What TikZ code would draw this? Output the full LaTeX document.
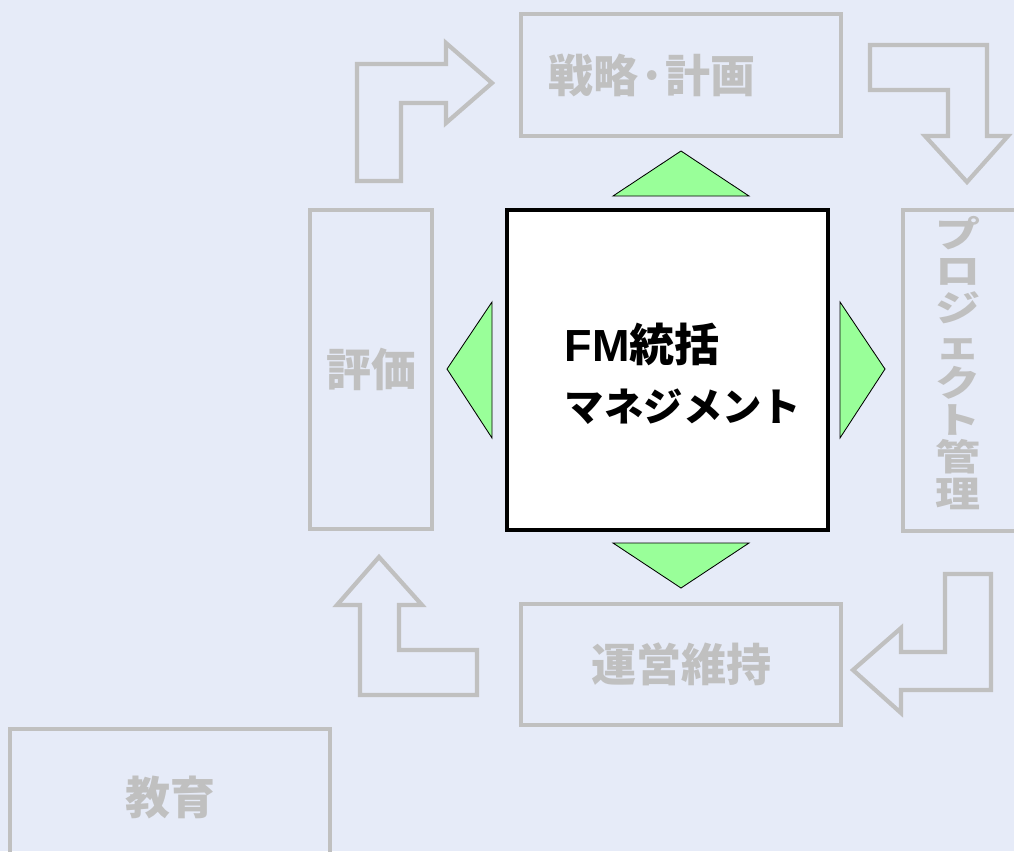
\documentclass[tikz,border=0pt]{standalone}
\usepackage{fontspec}
\newfontfamily\jpfont{Noto Sans CJK JP}
\newfontfamily\lafont{Liberation Sans}
\usetikzlibrary{positioning}
\definecolor{bgblue}{RGB}{230,235,248}
\definecolor{lgray}{RGB}{192,192,192}
\definecolor{lgreen}{RGB}{153,255,153}
\tikzset{
  gbox/.style={draw=lgray, line width=3pt, text=lgray, inner sep=0pt,
    font=\jpfont\bfseries\fontsize{32}{33}\selectfont},
  gtext/.style={gbox, draw=none},
  fmbox/.style={draw=black, fill=white, line width=3.4pt},
  garrow/.style={draw=lgray, line width=3pt, line join=miter},
  tri/.style={draw=black, line width=0.6pt, fill=lgreen, line join=miter}
}
\newcommand{\gnode}[5]{\node [gbox, minimum width=#4*0.025cm, minimum height=#5*0.025cm] (#1) at (#2) {#3}}

\begin{document}
\begin{tikzpicture}[x=0.025cm, y=-0.025cm]

\clip (0,0) rectangle (1014,851);
\fill[bgblue] (0,0) rectangle (1014,851);

\gnode{plan}{681,75}{}{320}{122};
\node [gtext] (plantext) at (652,75) {戦略·計画};
\gnode{proj}{964,370.5}{}{122}{321};
\gnode{eval}{371,369.5}{評価}{122}{319};
\gnode{ops}{681,664.5}{運営維持}{320}{121};
\gnode{edu}{170,797}{教育}{320}{136};

\node [gtext] (projtext) at (958,363)
  {\scalebox{1}[0.8]{\parbox{32pt}{\centering\fontsize{32}{33}\selectfont プ\\ロ\\ジ\\ェ\\ク\\ト\\管\\理}}};

\node [fmbox, minimum width=321*0.025cm, minimum height=320*0.025cm] (fm) at (667.5,370) {};
\node [font=\jpfont\bfseries\fontsize{28}{42.5}\selectfont, align=left] (fmtext) at (683,374)
  {{\lafont\bfseries\fontsize{32}{42.5}\selectfont FM}{\fontsize{32}{42.5}\selectfont 統括}\\マネジメント};

\draw[tri] (613,196) -- (681,151) -- (749,196) -- cycle;
\draw[tri] (613,543) -- (681,588) -- (749,543) -- cycle;
\draw[tri] (492,302) -- (447,369) -- (492,438) -- cycle;
\draw[tri] (840,302) -- (885,369) -- (840,438) -- cycle;

\draw[garrow] (357,64) -- (446,64) -- (446,43) -- (492,83) -- (446,123) -- (446,103)
  -- (401,103) -- (401,181) -- (357,181) -- cycle;
\draw[garrow] (870,45) -- (987,45) -- (987,136) -- (1008,136) -- (967,182) -- (925,136)
  -- (948,136) -- (948,90) -- (870,90) -- cycle;
\draw[garrow] (945,574) -- (991,574) -- (991,690) -- (901,690) -- (901,713) -- (853,670)
  -- (901,628) -- (901,652) -- (945,652) -- cycle;
\draw[garrow] (379,557) -- (422,605) -- (399,605) -- (399,650) -- (477,650) -- (477,695)
  -- (360,695) -- (360,605) -- (337,605) -- cycle;

\end{tikzpicture}
\end{document}
